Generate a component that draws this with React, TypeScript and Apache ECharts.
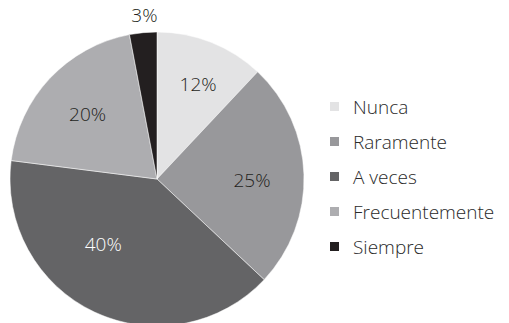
import React, { useEffect, useRef } from "react";
import * as echarts from "echarts";

const categories = ["Nunca", "Raramente", "A veces", "Frecuentemente", "Siempre"];
const values = [12, 25, 40, 20, 3];
const colors = ["#e3e3e4", "#98989b", "#646466", "#adadb0", "#231f20"];
const labelColors = ["#231f20", "#231f20", "#ffffff", "#231f20", "#231f20"];
const labelOffsets = [[5, -4], [-3, 4], [-12, -24], [2, 2], [3, 1]];

export default function App() {
  const ref = useRef<HTMLDivElement>(null);
  useEffect(() => {
    if (!ref.current) return;
    const chart = echarts.init(ref.current, undefined, { renderer: "svg" });
    const font = "Open Sans";
    const labelStyle = {
      position: "inside",
      formatter: "{c}%",
      fontSize: 19,
      fontFamily: font,
      fontWeight: 300,
    };
    const mainData = categories.map((name, i) => ({
      name,
      value: values[i],
      itemStyle: { color: colors[i] },
    }));
    const insideData = categories.map((name, i) => ({
      name,
      value: values[i],
      label: { show: i !== 4, color: labelColors[i], offset: labelOffsets[i] },
    }));
    const outsideData = categories.map((name, i) => ({
      name,
      value: values[i],
      label: { show: i === 4, color: labelColors[i], offset: labelOffsets[i] },
    }));
    const labelSeries = (radius: number[], data: any[]) => ({
      type: "pie",
      center: [157, 179],
      radius,
      startAngle: 90,
      clockwise: true,
      silent: true,
      itemStyle: { color: "transparent", borderWidth: 0 },
      label: labelStyle,
      labelLine: { show: false },
      data,
    });
    chart.setOption({
      animation: false,
      legend: {
        orient: "vertical",
        left: 323,
        top: 92,
        itemWidth: 11,
        itemHeight: 11,
        itemGap: 16,
        icon: "rect",
        data: categories,
        textStyle: {
          fontSize: 19,
          fontFamily: font,
          fontWeight: 300,
          color: "#2a2a2a",
          padding: [0, 0, 0, 8],
        },
        selectedMode: false,
      },
      series: [
        {
          type: "pie",
          center: [157, 179],
          radius: [0, 147],
          startAngle: 90,
          clockwise: true,
          silent: true,
          itemStyle: { borderColor: "#ffffff", borderWidth: 0.5 },
          label: { show: false },
          labelLine: { show: false },
          data: mainData,
        },
        labelSeries([50, 140], insideData),
        labelSeries([150, 176], outsideData),
      ],
    });
    return () => chart.dispose();
  }, []);
  return (
    <div
      ref={ref}
      style={{ position: "fixed", left: 0, top: 0, width: 509, height: 323, background: "#fff" }}
    />
  );
}
